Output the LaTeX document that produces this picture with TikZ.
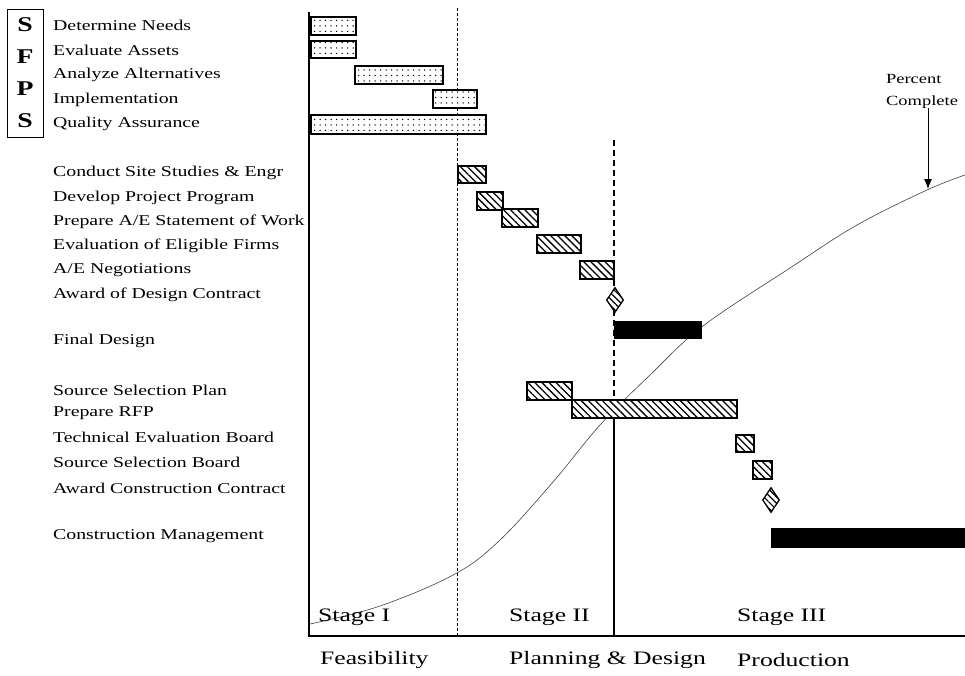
\documentclass[tikz,border=0pt]{standalone}
\usepackage{fontspec}
\setmainfont{Liberation Serif}
\newfontfamily\taskfont[FakeStretch=1.32]{Liberation Serif}
\newfontfamily\stagefont[FakeStretch=1.35]{Liberation Serif}
\usetikzlibrary{arrows.meta,patterns.meta,shapes.geometric}

\begin{document}
\begin{tikzpicture}[x=1pt,y=-1pt,
  task/.style={anchor=west,inner sep=0pt,
    font=\taskfont\fontsize{15}{17}\selectfont},
  stage/.style={anchor=west,inner sep=0pt,
    font=\stagefont\fontsize{19}{21}\selectfont},
  plainbar/.style={draw=black,line width=1.3pt,preaction={fill=white}},
  studybar/.style={plainbar,
    pattern={Dots[distance=5.5pt,radius=0.75pt,xshift=1pt]}},
  workbar/.style={plainbar,
    pattern={Lines[angle=-45,distance=5pt,line width=1.3pt]}},
  solidbar/.style={fill=black},
  award/.style={diamond,draw=black,line width=1.3pt,inner sep=0pt,
    minimum width=17pt,minimum height=25pt,preaction={fill=white},
    pattern={Lines[angle=-45,distance=4.5pt,line width=1.2pt]}},
  axis/.style={draw=black,line width=1.2pt},
  phaseline/.style={draw=black,line width=0.8pt,dash pattern=on 3pt off 2pt},
  phasedash/.style={draw=black,line width=1.6pt,dash pattern=on 6pt off 4pt},
  progress/.style={draw=black!75,line width=0.6pt},
  pointer/.style={-{Latex[length=10pt,width=8pt]},draw=black,line width=1pt}]
\useasboundingbox (0,0) rectangle (965,675);

% phase lines and axes
\coordinate (top) at (309,12);
\coordinate (origin) at (309,636);
\coordinate (end) at (965,636);
\draw[phaseline] (457,8) -- (457,636);
\draw[phasedash] (614,140) -- (614,400);
\draw[axis] (614,418) -- (614,636);
\draw[axis] (top) -- (origin) -- (end);

% percent complete curve
\draw[progress] plot[smooth,tension=0.6] coordinates {(310,624) (380,606)
  (455,574) (500,540) (553,482) (600,425) (650,375) (703,326) (790,268)
  (857,225) (927,190) (965,175)};
\coordinate (pcttip) at (928,189);
\node[align=left,inner sep=0pt,font=\taskfont\fontsize{14}{22}\selectfont]
  (pct) at (922,91) {Percent\\Complete};
\draw[pointer] (pct.south -| pcttip) -- (pcttip);

% SFPS
\node[draw=black,line width=1pt,minimum width=36pt,minimum height=128pt,
  inner sep=0pt,align=center,font=\taskfont\bfseries\fontsize{21}{32}\selectfont]
  (sfps) at (25,73) {S\\F\\P\\S};

% tasks
\node[task] (needs) at (53,25) {Determine Needs};
\node[task] (assets) at (53,50) {Evaluate Assets};
\node[task] (alts) at (53,75) {Analyze Alternatives};
\node[task] (impl) at (53,100) {Implementation};
\node[task] (qa) at (53,124) {Quality Assurance};
\node[task] (site) at (53,173) {Conduct Site Studies \& Engr};
\node[task] (program) at (53,198) {Develop Project Program};
\node[task] (sow) at (53,222) {Prepare A/E Statement of Work};
\node[task] (firms) at (53,246) {Evaluation of Eligible Firms};
\node[task] (nego) at (53,270) {A/E Negotiations};
\node[task] (dcontract) at (53,295) {Award of Design Contract};
\node[task] (final) at (53,341) {Final Design};
\node[task] (ssp) at (53,390) {Source Selection Plan};
\node[task] (rfp) at (53,413) {Prepare RFP};
\node[task] (teb) at (53,437) {Technical Evaluation Board};
\node[task] (ssb) at (53,462) {Source Selection Board};
\node[task] (ccontract) at (53,488) {Award Construction Contract};
\node[task] (cm) at (53,536) {Construction Management};

% bars
\draw[studybar] (311,17) rectangle (356,35);
\draw[studybar] (311,41) rectangle (356,58);
\draw[studybar] (355,66) rectangle (443,84);
\draw[studybar] (433,90) rectangle (477,108);
\draw[studybar] (311,115) rectangle (486,134);
\draw[workbar] (458,166) rectangle (486,183);
\draw[workbar] (477,192) rectangle (503,210);
\draw[workbar] (502,209) rectangle (538,227);
\draw[workbar] (537,235) rectangle (581,253);
\draw[workbar] (580,261) rectangle (614,279);
\node[award] (dmile) at (615,300) {};
\fill[solidbar] (614,321) rectangle (702,339);
\draw[workbar] (527,382) rectangle (572,400);
\draw[workbar] (572,400) rectangle (737,418);
\draw[workbar] (736,435) rectangle (754,452);
\draw[workbar] (753,461) rectangle (772,479);
\node[award] (cmile) at (771,500) {};
\fill[solidbar] (771,528) rectangle (965,548);

% stages
\node[stage] (s1) at (318,617) {Stage I};
\node[stage] (s2) at (509,617) {Stage II};
\node[stage] (s3) at (737,617) {Stage III};
\node[stage] (feas) at (320,660) {Feasibility};
\node[stage] (plan) at (509,660) {Planning \& Design};
\node[stage] (prod) at (737,660) {Production};
\end{tikzpicture}
\end{document}
